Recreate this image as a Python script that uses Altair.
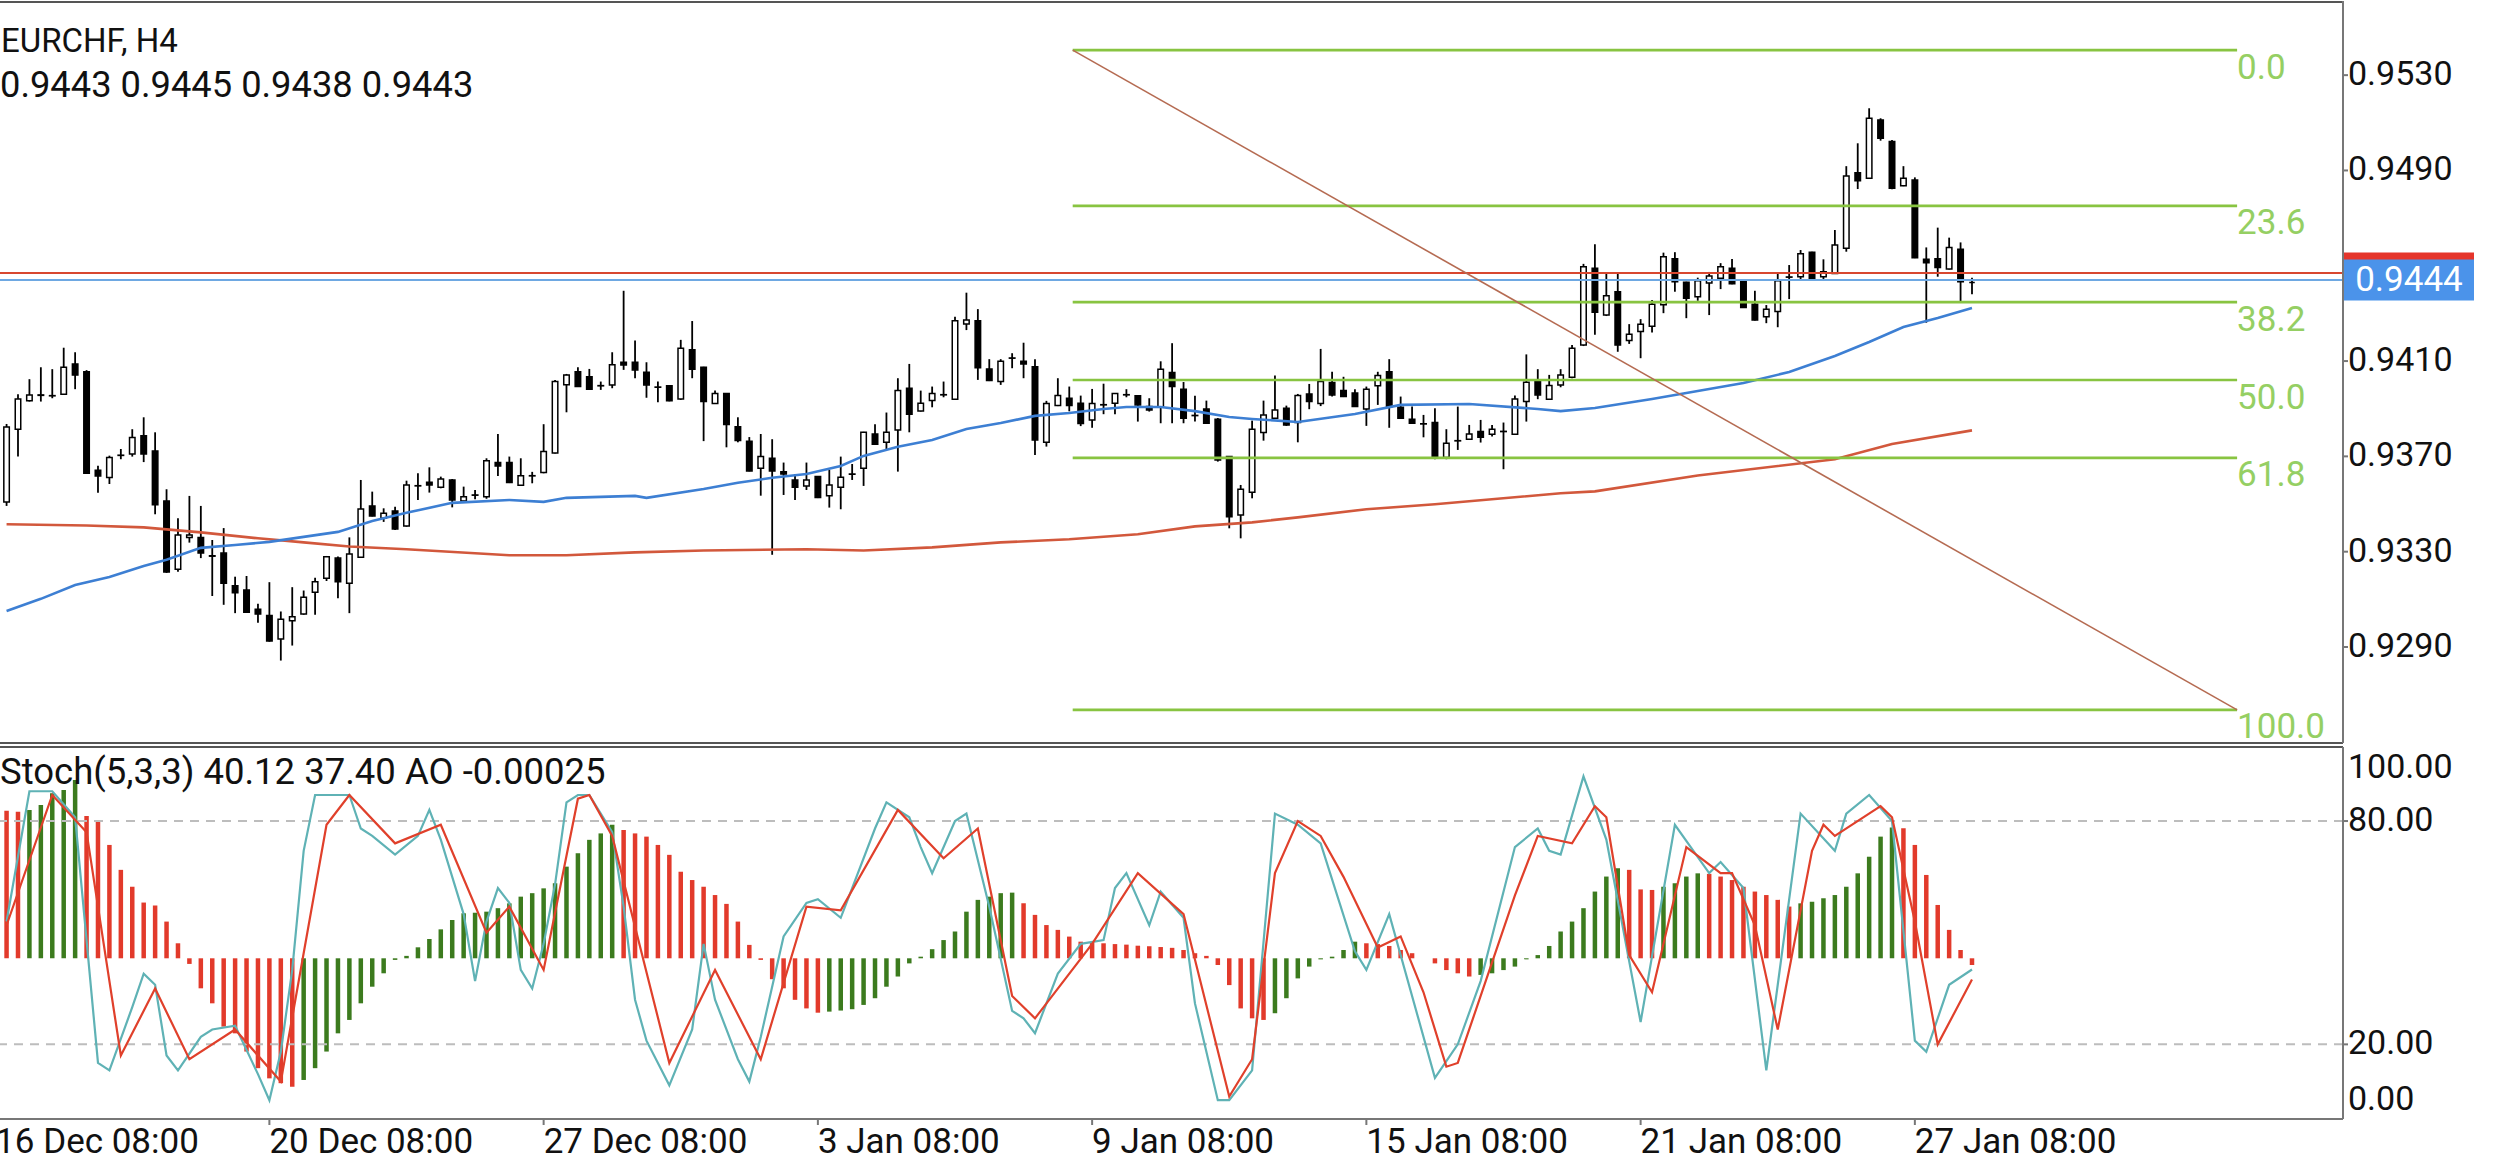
import altair as alt
import pandas as pd

# ---------------- data (H4 bars counted from 16 Dec 08:00 = bar 0) ----------------
symbol_title = "EURCHF, H4"
bars = list(range(1, 174))
open_ = [0.93509,0.93814,0.93933,0.93958,0.93955,0.93961,0.94088,0.94055,0.93642,0.93611,
0.93705,0.93710,0.93787,0.93723,0.93513,0.93226,0.93359,0.93360,0.93283,0.93294,
0.93157,0.93139,0.93058,0.93032,0.92934,0.93010,0.93038,0.93130,0.93188,0.93273,
0.93168,0.93277,0.93492,0.93440,0.93471,0.93408,0.93577,0.93591,0.93570,0.93601,
0.93513,0.93538,0.93531,0.93674,0.93674,0.93579,0.93619,0.93632,0.93714,0.94001,
0.94055,0.94034,0.93997,0.94000,0.94095,0.94095,0.94053,0.93991,0.93996,0.93941,
0.94147,0.94074,0.93922,0.93964,0.93824,0.93763,0.93650,0.93692,0.93635,0.93601,
0.93576,0.93615,0.93535,0.93570,0.93626,0.93650,0.93794,0.93759,0.93811,0.93986,
0.93890,0.93934,0.93959,0.93940,0.94256,0.94269,0.94067,0.94014,0.94113,0.94099,
0.94076,0.93759,0.93913,0.93944,0.93923,0.93853,0.93917,0.93923,0.93959,0.93954,
0.93909,0.93906,0.94052,0.93982,0.93872,0.93899,0.93856,0.93699,0.93454,0.93549,
0.93800,0.93860,0.93902,0.93842,0.93962,0.93922,0.94010,0.93976,0.93966,0.93899,
0.93996,0.94055,0.93906,0.93856,0.93837,0.93842,0.93695,0.93766,0.93772,0.93804,
0.93793,0.93805,0.93793,0.93930,0.94014,0.93940,0.94000,0.94032,0.94167,0.94490,
0.94293,0.94391,0.94186,0.94224,0.94246,0.94336,0.94529,0.94431,0.94370,0.94428,
0.94448,0.94490,0.94437,0.94338,0.94286,0.94308,0.94453,0.94454,0.94557,0.94454,
0.94468,0.94573,0.94890,0.94867,0.95112,0.95021,0.94836,0.94860,0.94527,0.94529,
0.94486,0.94569,0.94430]
high = [0.93836,0.93961,0.94024,0.94074,0.94066,0.94156,0.94137,0.94062,0.93661,0.93703,
0.93731,0.93814,0.93864,0.93801,0.93562,0.93440,0.93534,0.93492,0.93349,0.93399,
0.93195,0.93198,0.93081,0.93172,0.93049,0.93151,0.93137,0.93191,0.93282,0.93280,
0.93360,0.93601,0.93552,0.93482,0.93489,0.93598,0.93629,0.93654,0.93615,0.93605,
0.93573,0.93559,0.93692,0.93794,0.93699,0.93692,0.93635,0.93835,0.94021,0.94046,
0.94074,0.94067,0.94014,0.94137,0.94395,0.94186,0.94095,0.94014,0.93998,0.94189,
0.94268,0.94076,0.93976,0.93966,0.93864,0.93781,0.93794,0.93772,0.93674,0.93626,
0.93674,0.93617,0.93643,0.93699,0.93668,0.93803,0.93835,0.93884,0.94028,0.94088,
0.93976,0.93993,0.94014,0.94286,0.94387,0.94318,0.94108,0.94108,0.94133,0.94177,
0.94108,0.93933,0.94028,0.93993,0.93955,0.93983,0.94005,0.93966,0.93982,0.93956,
0.93944,0.94099,0.94175,0.94012,0.93954,0.93934,0.93861,0.93701,0.93580,0.93850,
0.93934,0.94039,0.93913,0.93962,0.94004,0.94151,0.94055,0.94034,0.93982,0.93993,
0.94055,0.94108,0.93951,0.93909,0.93874,0.93902,0.93814,0.93909,0.93832,0.93853,
0.93832,0.93842,0.93955,0.94128,0.94066,0.94042,0.94066,0.94167,0.94508,0.94590,
0.94468,0.94468,0.94255,0.94276,0.94356,0.94555,0.94557,0.94433,0.94450,0.94474,
0.94511,0.94528,0.94440,0.94395,0.94335,0.94471,0.94503,0.94566,0.94559,0.94527,
0.94650,0.94918,0.95014,0.95161,0.95119,0.95028,0.94918,0.94871,0.94577,0.94660,
0.94618,0.94598,0.94450]
low = [0.93492,0.93699,0.93930,0.93930,0.93944,0.93958,0.93982,0.93629,0.93547,0.93584,
0.93688,0.93699,0.93676,0.93457,0.93211,0.93216,0.93338,0.93273,0.93114,0.93077,
0.93042,0.93044,0.93002,0.92922,0.92843,0.92906,0.93035,0.93035,0.93177,0.93105,
0.93042,0.93275,0.93448,0.93425,0.93391,0.93405,0.93517,0.93548,0.93566,0.93486,
0.93510,0.93520,0.93522,0.93618,0.93588,0.93576,0.93587,0.93629,0.93712,0.93885,
0.93991,0.93980,0.93979,0.93986,0.94063,0.94028,0.93946,0.93927,0.93931,0.93937,
0.94028,0.93764,0.93920,0.93738,0.93759,0.93637,0.93535,0.93287,0.93538,0.93517,
0.93559,0.93525,0.93485,0.93478,0.93601,0.93576,0.93749,0.93727,0.93636,0.93801,
0.93888,0.93906,0.93948,0.93938,0.94230,0.94021,0.94016,0.94000,0.94070,0.94028,
0.93706,0.93741,0.93911,0.93889,0.93827,0.93820,0.93877,0.93877,0.93948,0.93846,
0.93888,0.93839,0.93839,0.93839,0.93846,0.93837,0.93678,0.93398,0.93356,0.93524,
0.93766,0.93858,0.93828,0.93759,0.93898,0.93911,0.93951,0.93949,0.93907,0.93828,
0.93916,0.93820,0.93858,0.93837,0.93780,0.93688,0.93688,0.93727,0.93770,0.93758,
0.93783,0.93646,0.93791,0.93846,0.93940,0.93938,0.93990,0.94028,0.94163,0.94210,
0.94289,0.94139,0.94172,0.94112,0.94220,0.94301,0.94391,0.94280,0.94353,0.94293,
0.94402,0.94422,0.94323,0.94270,0.94259,0.94242,0.94360,0.94443,0.94441,0.94440,
0.94466,0.94559,0.94822,0.94865,0.95025,0.94821,0.94834,0.94532,0.94261,0.94454,
0.94484,0.94349,0.94380]
close = [0.93823,0.93941,0.93958,0.93956,0.93954,0.94074,0.94041,0.93629,0.93618,0.93695,
0.93704,0.93779,0.93710,0.93497,0.93215,0.93370,0.93370,0.93294,0.93281,0.93168,
0.93128,0.93046,0.93038,0.92925,0.93016,0.93027,0.93109,0.93174,0.93279,0.93174,
0.93290,0.93479,0.93450,0.93461,0.93395,0.93580,0.93576,0.93580,0.93605,0.93517,
0.93531,0.93537,0.93682,0.93660,0.93590,0.93619,0.93618,0.93720,0.94014,0.94041,
0.93993,0.93982,0.93996,0.94085,0.94084,0.94063,0.94000,0.93990,0.93933,0.94154,
0.94066,0.93930,0.93964,0.93834,0.93767,0.93639,0.93699,0.93639,0.93626,0.93570,
0.93601,0.93527,0.93580,0.93612,0.93625,0.93801,0.93751,0.93801,0.93976,0.93877,
0.93923,0.93964,0.93958,0.94269,0.94272,0.94072,0.94018,0.94099,0.94112,0.94088,
0.93769,0.93922,0.93955,0.93913,0.93838,0.93922,0.93916,0.93964,0.93958,0.93916,
0.93895,0.94066,0.93993,0.93860,0.93871,0.93839,0.93685,0.93447,0.93562,0.93814,
0.93874,0.93895,0.93832,0.93955,0.93930,0.94014,0.93958,0.93951,0.93909,0.93982,
0.94039,0.93909,0.93860,0.93839,0.93836,0.93699,0.93755,0.93765,0.93794,0.93780,
0.93814,0.93804,0.93941,0.94011,0.93958,0.93997,0.94041,0.94154,0.94496,0.94305,
0.94374,0.94167,0.94213,0.94255,0.94338,0.94538,0.94433,0.94364,0.94437,0.94457,
0.94496,0.94424,0.94325,0.94272,0.94317,0.94437,0.94452,0.94550,0.94443,0.94475,
0.94587,0.94877,0.94857,0.95119,0.95035,0.94825,0.94867,0.94534,0.94513,0.94493,
0.94577,0.94433,0.94430]

ma50_bar = [1,4,7,10,13,15,18,21,24,27,30,33,36,40,45,48,50,56,57,62,65,68,71,74,76,79,82,85,88,91,
            94,97,99,102,105,108,110,114,119,123,129,135,137,140,145,149,153,157,161,164,167,170,173]
ma50_val = [0.93051,0.93102,0.93160,0.93194,0.93240,0.93266,0.93316,0.93328,0.93341,0.93362,
            0.93383,0.93429,0.93463,0.93505,0.93517,0.93509,0.93526,0.93534,0.93526,0.93563,
            0.93589,0.93610,0.93626,0.93660,0.93702,0.93740,0.93769,0.93815,0.93840,0.93870,
            0.93882,0.93899,0.93907,0.93907,0.93890,0.93865,0.93857,0.93844,0.93878,0.93916,
            0.93920,0.93899,0.93890,0.93903,0.93941,0.93974,0.94008,0.94054,0.94121,0.94180,
            0.94243,0.94281,0.94323]
ma200_bar = [1,8,13,18,23,27,31,36,45,50,56,62,71,76,82,88,94,100,105,110,114,120,126,137,140,149,161,166,173]
ma200_val = [0.93415,0.93410,0.93402,0.93381,0.93356,0.93339,0.93322,0.93310,0.93285,0.93285,
             0.93297,0.93305,0.93310,0.93305,0.93318,0.93339,0.93352,0.93373,0.93406,0.93423,
             0.93444,0.93478,0.93499,0.93545,0.93553,0.93620,0.93688,0.93752,0.93809]

ask_price = 0.9447
bid_price = 0.9444

fib_levels = [0.0, 23.6, 38.2, 50.0, 61.8, 100.0]
fib_high = 0.95405
fib_low = 0.92636
fib_start_bar = 94.3
fib_end_bar = 196.2

ao = [0.00551,0.00547,0.00553,0.00572,0.00616,0.00628,0.00665,0.00531,0.00516,0.00423,
0.00330,0.00267,0.00208,0.00197,0.00137,0.00056,-0.00021,-0.00112,-0.00168,-0.00255,
-0.00280,-0.00348,-0.00410,-0.00448,-0.00466,-0.00479,-0.00454,-0.00410,-0.00348,-0.00280,
-0.00230,-0.00168,-0.00106,-0.00056,-0.00006,0.00009,0.00041,0.00072,0.00108,0.00143,
0.00168,0.00170,0.00174,0.00187,0.00205,0.00230,0.00243,0.00261,0.00280,0.00342,
0.00392,0.00442,0.00466,0.00498,0.00479,0.00466,0.00454,0.00423,0.00386,0.00323,
0.00292,0.00267,0.00236,0.00203,0.00137,0.00050,-0.00006,-0.00078,-0.00112,-0.00155,
-0.00187,-0.00203,-0.00199,-0.00195,-0.00190,-0.00174,-0.00149,-0.00106,-0.00068,-0.00019,
0.00006,0.00034,0.00068,0.00100,0.00174,0.00218,0.00230,0.00243,0.00245,0.00205,
0.00162,0.00124,0.00106,0.00081,0.00062,0.00058,0.00056,0.00053,0.00051,0.00047,
0.00045,0.00042,0.00039,0.00031,0.00019,0.00009,-0.00025,-0.00100,-0.00187,-0.00224,
-0.00230,-0.00205,-0.00149,-0.00075,-0.00031,-0.00004,0.00006,0.00031,0.00062,0.00056,
0.00053,0.00046,0.00031,0.00019,0.00000,-0.00019,-0.00044,-0.00056,-0.00068,-0.00062,
-0.00056,-0.00044,-0.00031,-0.00004,0.00012,0.00046,0.00100,0.00137,0.00187,0.00249,
0.00305,0.00336,0.00330,0.00257,0.00255,0.00267,0.00280,0.00305,0.00317,0.00315,
0.00305,0.00292,0.00267,0.00249,0.00236,0.00218,0.00193,0.00205,0.00211,0.00224,
0.00236,0.00267,0.00317,0.00379,0.00454,0.00488,0.00485,0.00423,0.00311,0.00199,
0.00106,0.00031,-0.00025]

stoch_k_bar = [1,3,5,7,9,10,12,13,14,15,16,18,19,21,23,24,25,26,27,28,31,32,33,35,37,38,39,41,42,43,
               44,45,46,47,48,49,50,51,52,54,55,56,57,59,61,62,63,65,66,67,69,71,72,74,75,77,78,80,81,82,
               84,85,87,89,90,91,93,95,97,98,99,101,102,104,105,107,108,110,112,114,116,119,120,122,126,128,
               130,133,135,136,137,139,141,144,147,150,151,153,155,158,161,162,164,166,168,169,171,173]
stoch_k_val = [53,88,88,81,15,13,30,39,36,17,13,22,24,25,12,5,18,40,72,87,87,78,76,71,76,83,75,55,37,53,
               62,58,40,35,47,63,85,87,87,77,57,32,21,9,24,47,32,16,10,22,49,58,59,54,62,78,85,81,73,66,
               80,82,57,29,27,23,39,47,48,62,66,52,61,54,31,5,5,13,82,79,74,45,40,55,11,20,
               37,73,78,72,71,92,75,26,79,66,69,62,13,82,72,82,87,80,21,18,36,40.12]
stoch_d_bar = [1,5,8,11,14,17,21,25,29,31,35,39,43,45,48,51,52,54,59,63,67,71,74,79,83,86,89,91,96,100,
               104,108,110,112,114,116,118,121,123,125,127,128,133,135,138,140,141,143,145,148,151,152,154,156,
               159,160,161,165,166,168,170,173]
stoch_d_val = [52,87,77,17,35,16,24,10,79,87,74,79,50,57,40,86,87,76,15,40,16,57,56,83,70,78,33,27,47,66,
               55,6,16,66,80,76,65,46,49,34,14,15,60,76,74,84,81,44,34,73,66,66,52,24,
               72,79,76,84,81,53,20,37.40]
stoch_levels = [20, 80]

date_ticks = [0, 24, 48, 72, 96, 120, 144, 168]
date_labels = ["16 Dec 08:00", "20 Dec 08:00", "27 Dec 08:00", "3 Jan 08:00",
               "9 Jan 08:00", "15 Jan 08:00", "21 Jan 08:00", "27 Jan 08:00"]
# 0.9450 sits under the current-price tag and is not visible, so it is not listed
price_ticks = [0.9290, 0.9330, 0.9370, 0.9410, 0.9490, 0.9530]
stoch_ticks = [0, 20, 80, 100]

# ---------------- layout / styles ----------------
W, H = 2343, 1119
FONT = "Roboto"
AXC = "#777777"
TXT = "#111111"
xs = alt.Scale(domain=[0.8627, 205.03], nice=False, zero=False)
ys_price = alt.Scale(domain=[0.92497, 0.95607], range=[743, 2], nice=False, zero=False)
ys_stoch = alt.Scale(domain=[0, 100], range=[1118.8, 746.6], nice=False, zero=False)
ys_ao = alt.Scale(domain=[-0.005989, 0.007899], range=[1118.8, 746.6], nice=False, zero=False)


def xq(field):
    return alt.X(field, type="quantitative", scale=xs, axis=None)


def yp(field):
    return alt.Y(field, type="quantitative", scale=ys_price, axis=None)


def ysto(field):
    return alt.Y(field, type="quantitative", scale=ys_stoch, axis=None)


# ---------------- price panel ----------------
cdf = pd.DataFrame({"k": bars, "o": open_, "h": high, "l": low, "c": close})
cdf["dir"] = ["up" if c >= o else "down" for o, c in zip(open_, close)]

wicks = alt.Chart(cdf).mark_rule(color="black", strokeWidth=1.8).encode(
    x=xq("k"), y=yp("l"), y2="h:Q")
bodies = alt.Chart(cdf).mark_bar(size=5.5, stroke="black", strokeWidth=1.5).encode(
    x=xq("k"), y=yp("o"), y2="c:Q",
    fill=alt.Fill("dir:N", scale=alt.Scale(domain=["up", "down"], range=["white", "black"]), legend=None))

ma50 = alt.Chart(pd.DataFrame({"k": ma50_bar, "v": ma50_val})).mark_line(
    color="#3d7fd3", strokeWidth=2.6).encode(x=xq("k"), y=yp("v"))
ma200 = alt.Chart(pd.DataFrame({"k": ma200_bar, "v": ma200_val})).mark_line(
    color="#d2583c", strokeWidth=2.6).encode(x=xq("k"), y=yp("v"))

hl_ask = alt.Chart(pd.DataFrame({"p": [ask_price]})).mark_rule(color="#d8472f", strokeWidth=2).encode(y=yp("p"))
hl_bid = alt.Chart(pd.DataFrame({"p": [bid_price]})).mark_rule(color="#6ea8e2", strokeWidth=2).encode(y=yp("p"))

fib = pd.DataFrame({"lvl": fib_levels})
fib["p"] = fib_high - (fib_high - fib_low) * fib["lvl"] / 100.0
fib["x1"] = fib_start_bar
fib["x2"] = fib_end_bar
fib["label"] = [f"{v:.1f}" for v in fib_levels]
fib_rules = alt.Chart(fib).mark_rule(color="#88c441", strokeWidth=2.6).encode(
    x=xq("x1"), x2="x2:Q", y=yp("p"))
fib_text = alt.Chart(fib).mark_text(align="left", baseline="alphabetic", dy=28.5, font=FONT,
                                    fontSize=35, color="#95cf63").encode(
    x=xq("x2"), y=yp("p"), text="label:N")

trend_df = pd.DataFrame({"x1": [fib_start_bar], "x2": [fib_end_bar], "y1": [fib_high], "y2": [fib_low]})
trend = alt.Chart(trend_df).mark_rule(color="#b56b52", strokeWidth=1.6).encode(
    x=xq("x1"), x2="x2:Q", y=yp("y1"), y2="y2:Q")

# right price axis (drawn by hand)
ptick_df = pd.DataFrame({"p": price_ticks, "t": [f"{v:.4f}" for v in price_ticks]})
p_labels = alt.Chart(ptick_df).mark_text(align="left", baseline="middle", font=FONT, fontSize=34,
                                         color=TXT).encode(x=alt.value(W + 5), y=yp("p"), text="t:N")
p_ticks = alt.Chart(ptick_df).mark_rule(color=AXC, strokeWidth=2).encode(
    x=alt.value(W - 1), x2=alt.value(W + 5), y=yp("p"))

TAG = "M-1,-0.3154L1,-0.3154L1,0.3154L-1,0.3154Z"
tag_ask = alt.Chart(pd.DataFrame({"p": [ask_price]})).mark_point(
    shape=TAG, size=16900, filled=True, color="#e5352b", opacity=1, strokeWidth=0).encode(
    x=alt.value(2409), y=yp("p"))
tag_bid = alt.Chart(pd.DataFrame({"p": [bid_price]})).mark_point(
    shape=TAG, size=16900, filled=True, color="#4b93ea", opacity=1, strokeWidth=0).encode(
    x=alt.value(2409), y=yp("p"))
tag_text = alt.Chart(pd.DataFrame({"p": [bid_price], "t": [f"{bid_price:.4f}"]})).mark_text(
    font=FONT, fontSize=35, color="white", align="center", baseline="middle").encode(
    x=alt.value(2409), y=yp("p"), text="t:N")

price_layer = alt.layer(wicks, bodies, ma200, ma50, hl_ask, hl_bid, fib_rules, trend,
                        fib_text, p_ticks, p_labels, tag_ask, tag_bid, tag_text)

# ---------------- indicator panel ----------------
aodf = pd.DataFrame({"k": bars, "ao": ao})
aodf["dir"] = ["down"] + ["up" if ao[i] > ao[i - 1] else "down" for i in range(1, len(ao))]
ao_bars = alt.Chart(aodf).mark_bar(size=4.5).encode(
    x=xq("k"), y=alt.Y("ao:Q", scale=ys_ao, axis=None), y2=alt.datum(0),
    color=alt.Color("dir:N", scale=alt.Scale(domain=["up", "down"], range=["#3c7b1e", "#e23a2b"]), legend=None))

levels = alt.Chart(pd.DataFrame({"v": stoch_levels})).mark_rule(
    color="#bdbdbd", strokeWidth=2, strokeDash=[9, 7]).encode(y=ysto("v"))
k_line = alt.Chart(pd.DataFrame({"k": stoch_k_bar, "v": stoch_k_val})).mark_line(
    color="#5fb2b5", strokeWidth=2.2).encode(x=xq("k"), y=ysto("v"))
d_line = alt.Chart(pd.DataFrame({"k": stoch_d_bar, "v": stoch_d_val})).mark_line(
    color="#e0402b", strokeWidth=2.2).encode(x=xq("k"), y=ysto("v"))
sdf = pd.DataFrame({"v": stoch_levels, "t": [f"{v:.2f}" for v in stoch_levels]})
s_labels = alt.Chart(sdf).mark_text(align="left", baseline="middle", font=FONT, fontSize=34,
                                    color=TXT).encode(x=alt.value(W + 5), y=ysto("v"), text="t:N")
s_ticks = alt.Chart(sdf).mark_rule(color=AXC, strokeWidth=2).encode(
    x=alt.value(W - 1), x2=alt.value(W + 5), y=ysto("v"))
stoch_layer = alt.layer(levels, k_line, d_line, s_ticks, s_labels)

# ---------------- x axis (drawn by hand) ----------------
ddf = pd.DataFrame({"k": date_ticks, "t": date_labels})
d_labels = alt.Chart(ddf).mark_text(align="left", baseline="alphabetic", font=FONT, fontSize=35,
                                    color=TXT).encode(x=xq("k"), y=alt.value(1153), text="t:N")
d_ticks = alt.Chart(ddf).mark_rule(color=AXC, strokeWidth=2).encode(
    x=xq("k"), y=alt.value(H), y2=alt.value(H + 6))

# ---------------- texts and borders ----------------
ohlc_txt = f"{open_[-1]:.4f} {high[-1]:.4f} {low[-1]:.4f} {close[-1]:.4f}"
stoch_txt = f"Stoch(5,3,3) {stoch_k_val[-1]:.2f} {stoch_d_val[-1]:.2f} AO {ao[-1]:.5f}"


def label(txt, x, y, size):
    return alt.Chart(pd.DataFrame({"t": [txt]})).mark_text(
        align="left", baseline="alphabetic", font=FONT, fontSize=size, color=TXT).encode(
        x=alt.value(x), y=alt.value(y), text="t:N")


def hline(y, color="#555555"):
    return alt.Chart(pd.DataFrame({"a": [0]})).mark_rule(color=color, strokeWidth=2).encode(
        x=alt.value(0), x2=alt.value(W), y=alt.value(y))


def vline(y1, y2):
    return alt.Chart(pd.DataFrame({"a": [0]})).mark_rule(color=AXC, strokeWidth=2).encode(
        x=alt.value(W), y=alt.value(y1), y2=alt.value(y2))


chart = alt.layer(
    price_layer, ao_bars, stoch_layer, d_ticks, d_labels,
    label(symbol_title, 1, 52, 33), label(ohlc_txt, 0, 97, 36.3), label(stoch_txt, 0, 784, 36.5),
    label(f"{stoch_ticks[-1]:.2f}", W + 5, 778, 34), label(f"{stoch_ticks[0]:.2f}", W + 5, 1110, 34),
    hline(2), hline(743), hline(747), hline(H, AXC), vline(1, 743), vline(747, H),
).resolve_scale(y="independent").properties(
    width=W, height=H,
    padding={"left": 0, "top": 0, "right": 157, "bottom": 49},
    autosize=alt.AutoSizeParams(type="none"),
    background="white",
).configure_view(stroke=None)

chart.save("out.html", embed_options={"renderer": "svg", "actions": False})
